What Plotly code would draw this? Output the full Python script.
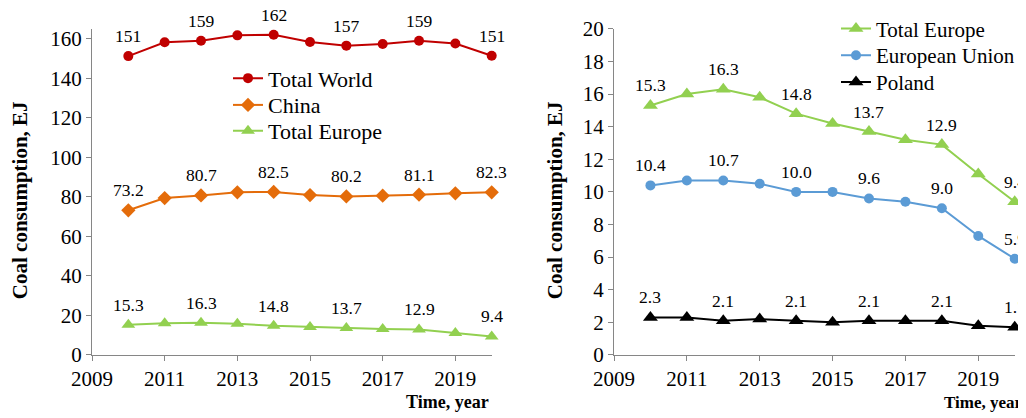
import plotly.graph_objects as go

years = [2010, 2011, 2012, 2013, 2014, 2015, 2016, 2017, 2018, 2019, 2020]

total_world = [151.2, 158.2, 159.0, 161.7, 162.0, 158.3, 156.5, 157.3, 159.0, 157.6, 151.4]
china = [73.2, 79.4, 80.7, 82.3, 82.5, 80.9, 80.2, 80.6, 81.1, 81.8, 82.3]
total_europe = [15.3, 16.0, 16.3, 15.8, 14.8, 14.2, 13.7, 13.2, 12.9, 11.1, 9.4]
european_union = [10.4, 10.7, 10.7, 10.5, 10.0, 10.0, 9.6, 9.4, 9.0, 7.3, 5.9]
poland = [2.3, 2.3, 2.1, 2.2, 2.1, 2.0, 2.1, 2.1, 2.1, 1.8, 1.7]

world_labels = ["151", "", "159", "", "162", "", "157", "", "159", "", "151"]
china_labels = ["73.2", "", "80.7", "", "82.5", "", "80.2", "", "81.1", "", "82.3"]
europe_labels = ["15.3", "", "16.3", "", "14.8", "", "13.7", "", "12.9", "", "9.4"]
eu_labels = ["10.4", "", "10.7", "", "10.0", "", "9.6", "", "9.0", "", "5.9"]
poland_labels = ["2.3", "", "2.1", "", "2.1", "", "2.1", "", "2.1", "", "1.7"]

FONT = "Liberation Serif"
RED = "#C00000"
ORANGE = "#E46C0A"
GREEN = "#92D050"
BLUE = "#5B9BD5"
BLACK = "#000000"
AXIS = "#868686"
W, H = 1026, 418
OFF = 8  # page body margin


def px(x):
    return (x - OFF) / W


def py(y):
    return 1 - (y - OFF) / H


fig = go.Figure()


def add(x, y, name, color, symbol, size, xa, ya, legend):
    fig.add_trace(go.Scatter(
        x=x, y=y, name=name, mode="lines+markers",
        line=dict(color=color, width=2),
        marker=dict(color=color, symbol=symbol, size=size),
        xaxis=xa, yaxis=ya, legend=legend, cliponaxis=False,
    ))


add(years, total_world, "Total World", RED, "circle", 10, "x", "y", "legend")
add(years, china, "China", ORANGE, "diamond", 11, "x", "y", "legend2")
add(years, total_europe, "Total Europe", GREEN, "triangle-up", 12, "x", "y", "legend3")
add(years, total_europe, "Total Europe", GREEN, "triangle-up", 13, "x2", "y2", "legend4")
add(years, european_union, "European Union", BLUE, "circle", 10, "x2", "y2", "legend5")
add(years, poland, "Poland", BLACK, "triangle-up", 13, "x2", "y2", "legend6")

annotations = []


def labels(x, y, texts, xref, yref):
    for xi, yi, t in zip(x, y, texts):
        if t:
            annotations.append(dict(
                x=xi, y=yi, xref=xref, yref=yref, text=t, showarrow=False,
                yshift=20, xanchor="center", yanchor="middle",
                font=dict(family=FONT, size=17.5, color="#000000"),
            ))


labels(years, total_world, world_labels, "x", "y")
labels(years, china, china_labels, "x", "y")
labels(years, total_europe, europe_labels, "x", "y")
labels(years, total_europe, europe_labels, "x2", "y2")
labels(years, european_union, eu_labels, "x2", "y2")
labels(years, poland, poland_labels, "x2", "y2")

# axis titles
for xc in (20, 555):
    annotations.append(dict(
        x=px(xc), y=py(198), xref="paper", yref="paper",
        text="<b>Coal consumption, EJ</b>", textangle=-90, showarrow=False,
        xanchor="center", yanchor="middle",
        font=dict(family=FONT, size=21, color="#000000"),
    ))
for xr, fs in ((491, 18), (1025, 17)):
    annotations.append(dict(
        x=px(xr), y=py(402), xref="paper", yref="paper",
        text="<b>Time, year</b>", showarrow=False,
        xanchor="right", yanchor="middle",
        font=dict(family=FONT, size=fs, color="#000000"),
    ))

ydom = [py(354.3), py(25)]
xaxis_common = dict(
    range=[2009, 2020], tick0=2009, dtick=2, showgrid=False, zeroline=False,
    showline=True, linecolor=AXIS, linewidth=1.3, ticks="outside", ticklen=5,
    tickcolor=AXIS, tickfont=dict(family=FONT, size=21, color="#000000"),
    automargin=False,
)
yaxis_common = dict(
    showgrid=False, zeroline=False, showline=True, linecolor=AXIS, linewidth=1.3,
    ticks="outside", ticklen=5, tickcolor=AXIS,
    tickfont=dict(family=FONT, size=21, color="#000000"),
    automargin=False,
)


def leg(xpx, ycpx, size):
    return dict(x=px(xpx), y=py(ycpx), xanchor="left", yanchor="middle",
                bgcolor="rgba(0,0,0,0)", font=dict(family=FONT, size=size, color="#000000"),
                itemwidth=30)


fig.update_layout(
    width=W, height=H,
    margin=dict(l=0, r=0, t=0, b=0),
    paper_bgcolor="white", plot_bgcolor="white",
    xaxis=dict(domain=[px(92), px(491.7)], anchor="y", **xaxis_common),
    yaxis=dict(domain=ydom, anchor="x", range=[0, 165], tick0=0, dtick=20, **yaxis_common),
    xaxis2=dict(domain=[px(614), px(1014.7)], anchor="y2", **xaxis_common),
    yaxis2=dict(domain=ydom, anchor="x2", range=[0, 20], tick0=0, dtick=2, **yaxis_common),
    legend=leg(228, 75, 22),
    legend2=leg(228, 102, 22),
    legend3=leg(228, 128, 22),
    legend4=leg(836, 25, 21),
    legend5=leg(836, 52, 21),
    legend6=leg(836, 79, 21),
    annotations=annotations,
    showlegend=True,
)

fig.write_html("out.html")
